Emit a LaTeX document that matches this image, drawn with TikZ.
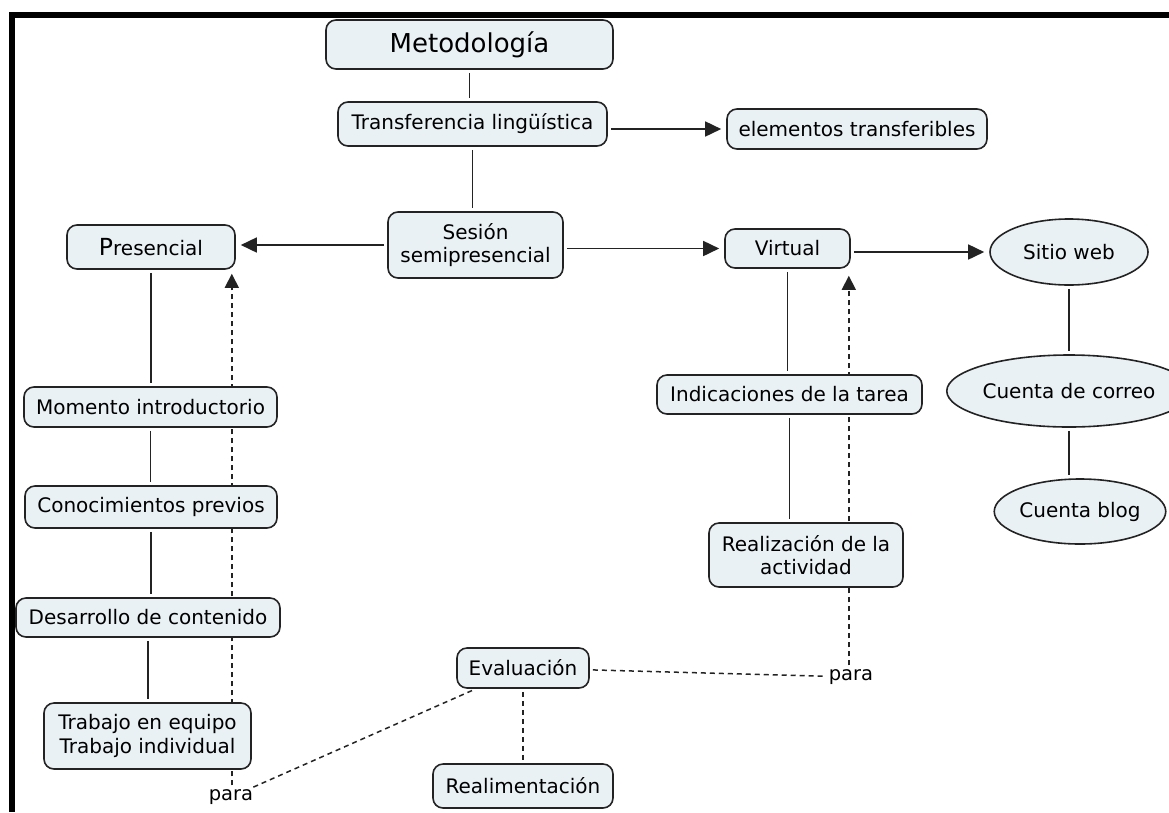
\documentclass[tikz,border=0pt]{standalone}
\usepackage{fontspec}
\setmainfont{DejaVu Sans}
\usetikzlibrary{arrows.meta,shapes.geometric,backgrounds}
\definecolor{boxfill}{RGB}{233,241,245}
\definecolor{edgecol}{RGB}{35,35,35}
\begin{document}
\begin{tikzpicture}[x=1pt,y=-1pt,
  concept/.style={draw=edgecol, line width=1.6pt, fill=boxfill, rounded corners=10pt, inner sep=0pt, align=center, font=\fontsize{20}{23.5}\selectfont, text=black},
  oval/.style={concept, ellipse, rounded corners=0pt},
  link/.style={draw=edgecol, line width=1.6pt, shorten <=3pt, shorten >=3pt},
  arr/.style={link, -{Triangle[length=16pt,width=15pt]}, shorten >=5pt},
  dlink/.style={link, line width=1.5pt, dash pattern=on 5pt off 4pt},
  darr/.style={dlink, -{Triangle[length=14pt,width=14pt]}},
  lbl/.style={inner sep=1pt, font=\fontsize{19.5}{23}\selectfont, text=black}]
\useasboundingbox (0,0) rectangle (1169,812);
% frame
\fill[black] (9,12) rectangle (1169,18);
\fill[black] (9,12) rectangle (15,812);
% nodes
\node[concept, minimum width=287pt, minimum height=49pt, font=\fontsize{26}{30}\selectfont] (meto) at (469.5,44.5) {Metodología};
\node[concept, minimum width=269pt, minimum height=44pt] (trans) at (472.5,124) {Transferencia lingüística};
\node[concept, minimum width=260pt, minimum height=40pt] (elem) at (857,129) {elementos transferibles};
\node[concept, minimum width=175pt, minimum height=66pt] (sesion) at (475.5,245) {Sesión\\semipresencial};
\node[concept, minimum width=168pt, minimum height=44pt] (pres) at (151,247) {{\fontsize{23.5}{23.5}\selectfont P}resencial};
\node[concept, minimum width=125pt, minimum height=39pt] (virt) at (787.5,248.5) {Virtual};
\node[oval, minimum width=158pt, minimum height=66pt] (sitio) at (1069,252) {Sitio web};
\node[oval, minimum width=193pt, minimum height=72pt] (correo) at (1069,391) {Cuenta de correo};
\node[oval, minimum width=150pt, minimum height=65pt] (blog) at (1080,511.5) {Cuenta blog};
\node[concept, minimum width=265pt, minimum height=39pt] (indic) at (789.5,394.5) {Indicaciones de la tarea};
\node[concept, minimum width=194pt, minimum height=64pt] (real) at (806,555) {Realización de la\\actividad};
\node[concept, minimum width=253pt, minimum height=40pt] (momento) at (150.5,407) {Momento introductorio};
\node[concept, minimum width=252pt, minimum height=42pt] (conoc) at (151,507) {Conocimientos previos};
\node[concept, minimum width=264pt, minimum height=39pt] (desar) at (148,617.5) {Desarrollo de contenido};
\node[concept, minimum width=207pt, minimum height=66pt] (trabajo) at (147.5,736) {Trabajo en equipo\\Trabajo individual};
\node[concept, minimum width=132pt, minimum height=40pt] (eval) at (523,668) {Evaluación};
\node[concept, minimum width=180pt, minimum height=44pt] (realim) at (523,786) {Realimentación};
\node[lbl] (para1) at (231,797) {para};
\node[lbl] (para2) at (851,677) {para};
\coordinate (vtip) at ([xshift=-2pt]virt.south east);
\coordinate (ptip) at ([xshift=-4pt]pres.south east);
% connectors
\begin{scope}[on background layer]
\draw[link] (meto.south) -- (meto.south |- trans.north);
\draw[link] (trans.south) -- (trans.south |- sesion.north);
\draw[arr] (trans.east |- elem.west) -- (elem.west);
\draw[arr] (sesion.west) -- (sesion.west -| pres.east);
\draw[arr] (sesion.east |- virt.west) -- (virt.west);
\draw[arr] (virt.east |- sitio.west) -- (sitio.west);
\draw[link] (sitio.south) -- (sitio.south |- correo.north);
\draw[link] (correo.south) -- (correo.south |- blog.north);
\draw[link] (virt.south) -- (virt.south |- indic.north);
\draw[link] (indic.south) -- (indic.south |- real.north);
\draw[link] (pres.south) -- (pres.south |- momento.north);
\draw[link] (momento.south) -- (momento.south |- conoc.north);
\draw[link] (conoc.south) -- (conoc.south |- desar.north);
\draw[link] (desar.south) -- (desar.south |- trabajo.north);
\draw[dlink] (eval.south) -- (realim.north);
\draw[dlink] (eval) -- (para2);
\draw[dlink] (para1) -- (eval);
\draw[darr, shorten >=7pt] (para2.north -| vtip) -- (vtip);
\draw[darr, shorten >=4pt] (para1.north -| ptip) -- (ptip);
\end{scope}
\end{tikzpicture}
\end{document}
